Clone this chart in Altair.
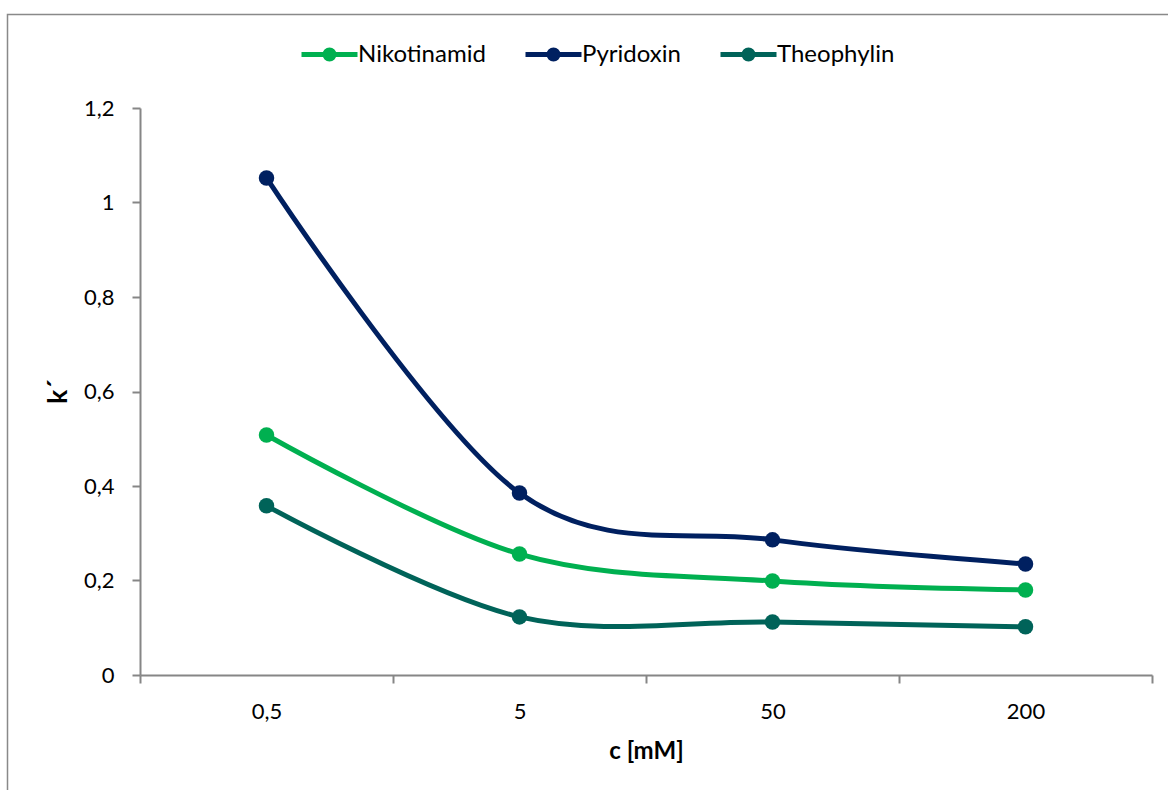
import altair as alt
import pandas as pd

# data
concentrations = ["0,5", "5", "50", "200"]
series_names = ["Nikotinamid", "Pyridoxin", "Theophylin"]
nikotinamid = [0.508, 0.256, 0.199, 0.180]
pyridoxin = [1.052, 0.385, 0.286, 0.235]
theophylin = [0.358, 0.123, 0.112, 0.102]
colors = ["#00B050", "#002060", "#006359"]
y_ticks = [0, 0.2, 0.4, 0.6, 0.8, 1.0, 1.2]

rows = []
for name, vals in zip(series_names, [nikotinamid, pyridoxin, theophylin]):
    for c, v in zip(concentrations, vals):
        rows.append({"c": c, "k": v, "series": name})
df = pd.DataFrame(rows)

FONT = "Lato"
AX = "#868686"

legend_path = (
    "M-2.8,0L2.8,0"
    "M0.2,0A0.2,0.2,0,1,1,-0.2,0A0.2,0.2,0,1,1,0.2,0"
    "M0.45,0A0.45,0.45,0,1,1,-0.45,0A0.45,0.45,0,1,1,0.45,0"
)

x_enc = alt.X(
    "c:N",
    sort=concentrations,
    scale=alt.Scale(type="band", paddingInner=0, paddingOuter=0),
    axis=alt.Axis(
        title="c [mM]",
        labelAngle=0,
        tickBand="extent",
        tickSize=8,
        labelPadding=18,
        titleY=83,
        titleBaseline="alphabetic",
    ),
)
y_enc = alt.Y(
    "k:Q",
    scale=alt.Scale(domain=[0, 1.2], nice=False, zero=True),
    axis=alt.Axis(
        title="k´",
        values=y_ticks,
        tickSize=8,
        labelPadding=18,
        labelExpr="replace(format(datum.value, '~g'), '.', ',')",
        titleAngle=-90,
        titleX=-74,
        titleY=283,
        titleAlign="center",
        titleBaseline="alphabetic",
        titleFontSize=26,
    ),
)

color_scale = alt.Scale(domain=series_names, range=colors)

frame = alt.Chart(alt.Data(values=[{}])).mark_rect(
    fill=None, stroke="#898989", strokeWidth=1.5
).encode(
    x=alt.value(-132.5), y=alt.value(-93.5), x2=alt.value(1040), y2=alt.value(720)
)

lines = alt.Chart(df).mark_line(strokeWidth=5, interpolate="cardinal").encode(
    x=x_enc,
    y=y_enc,
    stroke=alt.Stroke(
        "series:N",
        scale=color_scale,
        sort=series_names,
        legend=alt.Legend(
            title=None,
            orient="none",
            direction="horizontal",
            legendX=177,
            legendY=-66,
            symbolType=legend_path,
            symbolSize=400,
            symbolStrokeWidth=5,
            labelOffset=16,
            columnPadding=29,
            labelFont=FONT,
            labelFontSize=24,
            labelColor="black",
            padding=0,
        ),
    ),
)

points = alt.Chart(df).mark_circle(size=240, opacity=1).encode(
    x=x_enc,
    y=y_enc,
    fill=alt.Fill("series:N", scale=color_scale, sort=series_names, legend=None),
)

chart = alt.layer(frame, lines, points).properties(
    width=1012,
    height=567,
    padding={"left": 140, "top": 108, "right": 16, "bottom": 115},
    autosize="none",
    background="white",
).configure_view(stroke=None).configure_axis(
    grid=False,
    domainColor=AX,
    domainWidth=2,
    tickColor=AX,
    tickWidth=2,
    labelFont=FONT,
    labelFontSize=22,
    labelColor="black",
    titleFont=FONT,
    titleFontSize=24,
    titleFontWeight="bold",
    titleColor="black",
)

chart.save("out.html", embed_options={"renderer": "svg", "actions": False})
